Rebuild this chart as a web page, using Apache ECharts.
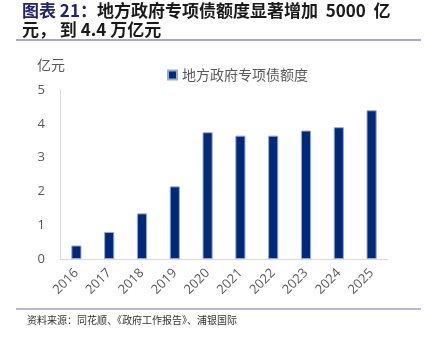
<!DOCTYPE html>
<html><head><meta charset="utf-8">
<script src="https://cdn.jsdelivr.net/npm/echarts@6/dist/echarts.min.js"></script>
<style>html,body{margin:0;padding:0;background:#fff}#c{width:427px;height:341px}</style>
</head><body><div id="c"></div>
<script>
const categories = ['2016','2017','2018','2019','2020','2021','2022','2023','2024','2025'];
const values = [0.4, 0.8, 1.35, 2.15, 3.75, 3.65, 3.65, 3.8, 3.9, 4.4];
const yTicks = [0, 1, 2, 3, 4, 5];
const seriesName = '地方政府专项债额度';
const titleLine1 = ['图表 21：', '地方政府专项债额度显著增加  5000  亿'];
const titleLine2 = '元， 到 4.4 万亿元';
const unitLabel = '亿元';
const sourceText = '资料来源：同花顺、《政府工作报告》、浦银国际';

const chart = echarts.init(document.getElementById('c'), null, {renderer:'canvas'});
const cjk = '"Noto Sans CJK SC", "Noto Sans", sans-serif';
chart.setOption({
  animation:false,
  backgroundColor:'#fff',
  textStyle:{fontFamily:cjk},
  grid:{left:60, right:39, top:90, bottom:82, containLabel:false},
  legend:{
    left:162, top:63, itemWidth:9, itemHeight:9, icon:'rect', itemGap:4,
    textStyle:{color:'#595959', fontSize:14, fontFamily:cjk},
    data:[seriesName]
  },
  xAxis:{
    type:'category', data:categories,
    axisLine:{lineStyle:{color:'#D9D9D9', width:1}},
    axisTick:{show:false},
    axisLabel:{rotate:45, color:'#595959', fontSize:13, margin:12, fontFamily:'"Open Sans", sans-serif'}
  },
  yAxis:{
    type:'value', min:yTicks[0], max:yTicks[yTicks.length-1], interval:1,
    axisLine:{show:true, lineStyle:{color:'#D9D9D9', width:1}},
    axisTick:{show:false},
    splitLine:{show:false},
    axisLabel:{color:'#595959', fontSize:13, margin:15, fontFamily:'"Open Sans", sans-serif'}
  },
  series:[{
    name:seriesName, type:'bar', data:values, barWidth:'31%',
    itemStyle:{color:'#002A78', borderColor:'#9AAAD0', borderWidth:1}
  }],
  graphic:[
    {type:'text', left:22, top:2, style:{
      text:'{a|'+titleLine1[0]+'}{b|'+titleLine1[1]+'}',
      rich:{
        a:{fontSize:17, fontWeight:'bold', fill:'#22226E', fontFamily:cjk},
        b:{fontSize:17, fontWeight:'bold', fill:'#1a1a1a', fontFamily:cjk}
      }}},
    {type:'text', left:22, top:21, style:{
      text:titleLine2, fill:'#1a1a1a', font:'bold 17px '+cjk}},
    {type:'line', shape:{x1:16, y1:40, x2:421, y2:40}, style:{stroke:'#8A8AB8', lineWidth:1.5}},
    {type:'text', left:37, top:58, style:{text:unitLabel, fill:'#595959', font:'14px '+cjk}},
    {type:'line', shape:{x1:16, y1:309, x2:421, y2:309}, style:{stroke:'#A0A0C8', lineWidth:1.5}},
    {type:'text', left:27, top:315, style:{text:sourceText, fill:'#333', font:'10px '+cjk}}
  ]
});
</script></body></html>
